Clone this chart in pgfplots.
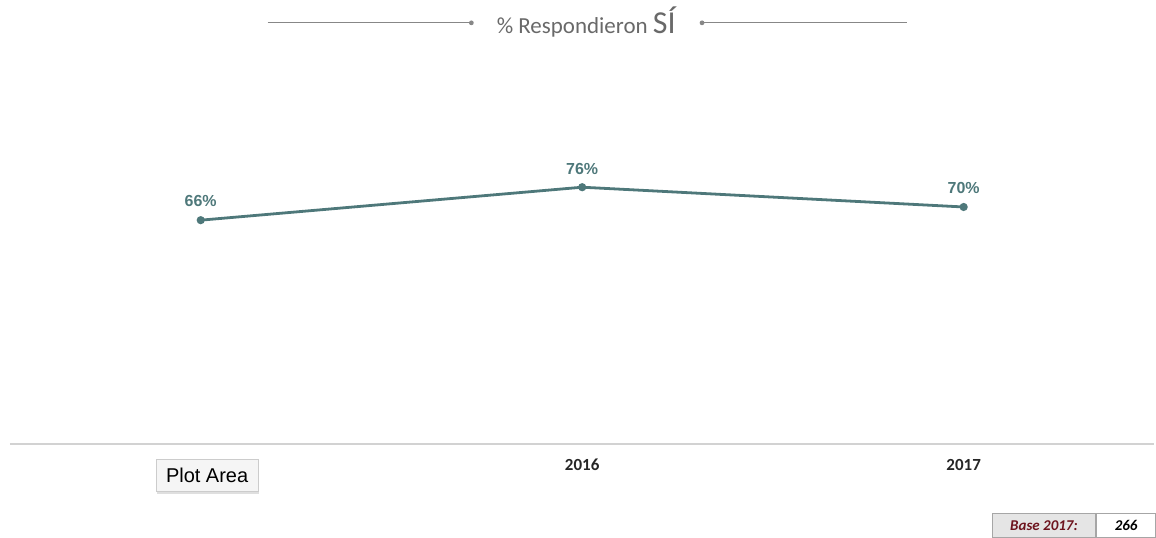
\documentclass[border=0pt]{standalone}
\usepackage{fontspec}
\setmainfont{Liberation Sans}
\newfontfamily\calib{Carlito}
\usepackage{pgfplots}
\pgfplotsset{compat=1.18}
\usetikzlibrary{shadows}
\definecolor{lineTeal}{RGB}{78,120,122}
\definecolor{titleGray}{RGB}{105,105,105}
\definecolor{axisGray}{RGB}{210,210,210}
\definecolor{baseRed}{RGB}{110,20,30}

\begin{document}
\begin{tikzpicture}
\begin{axis}[
    at={(0,-1pt)},
    scale only axis,
    width=573pt,
    height=168.3pt,
    xmin=-0.5, xmax=2.5,
    ymin=-2, ymax=100,
    axis y line=none,
    axis x line*=bottom,
    x axis line style={draw=axisGray,line width=0.8pt,-},
    xtick={0,1,2},
    xticklabels={,2016,2017},
    major tick length=0pt,
    xticklabel style={font=\calib\bfseries\fontsize{8.5}{10}\selectfont,text=black!85,yshift=-4pt},
    clip=false,
    /pgf/number format/assume math mode=true,
    nodes near coords={\pgfmathprintnumber{\pgfplotspointmeta}\%},
    nodes near coords style={font=\bfseries\fontsize{8}{9}\selectfont,text=lineTeal,yshift=2.5pt},
]
\addplot[color=lineTeal,line width=1.4pt,mark=*,mark size=1.3pt] coordinates {
    (0,66)
    (1,76)
    (2,70)
};
\end{axis}
% title with rules
\draw[titleGray!80,line width=0.5pt] (129pt,210pt) -- (231pt,210pt);
\fill[titleGray!80] (231pt,210pt) circle (1.2pt);
\draw[titleGray!80,line width=0.5pt] (346.5pt,210pt) -- (449pt,210pt);
\fill[titleGray!80] (346.5pt,210pt) circle (1.2pt);
\node[text=titleGray,font=\calib\fontsize{11.5}{13}\selectfont] at (288.5pt,210.5pt)
    {\% Respondieron {\fontsize{16}{17}\selectfont SÍ}};
% tooltip covering first tick label
\node[draw=black!20,fill=black!4,line width=0.4pt,drop shadow={opacity=0.25,shadow xshift=0.5pt,shadow yshift=-1pt},
    inner xsep=3pt,minimum height=16pt,minimum width=51pt,font=\fontsize{10}{12}\selectfont,anchor=north west]
    at (73pt,-8.5pt) {Plot Area};
% base box
\node[draw=black!35,fill=black!10,line width=0.4pt,minimum width=52pt,minimum height=12pt,
    anchor=north west,inner sep=0pt,font=\calib\bfseries\itshape\fontsize{7.5}{9}\selectfont,text=baseRed]
    (b1) at (491.5pt,-35.5pt) {Base 2017:};
\node[draw=black!35,fill=white,line width=0.4pt,minimum width=29.5pt,minimum height=12pt,
    anchor=north west,inner sep=0pt,font=\calib\bfseries\itshape\fontsize{7.5}{9}\selectfont]
    at (b1.north east) {266};
\path[use as bounding box] (-5pt,-47.5pt) rectangle (573pt,221pt);
\end{tikzpicture}
\end{document}
